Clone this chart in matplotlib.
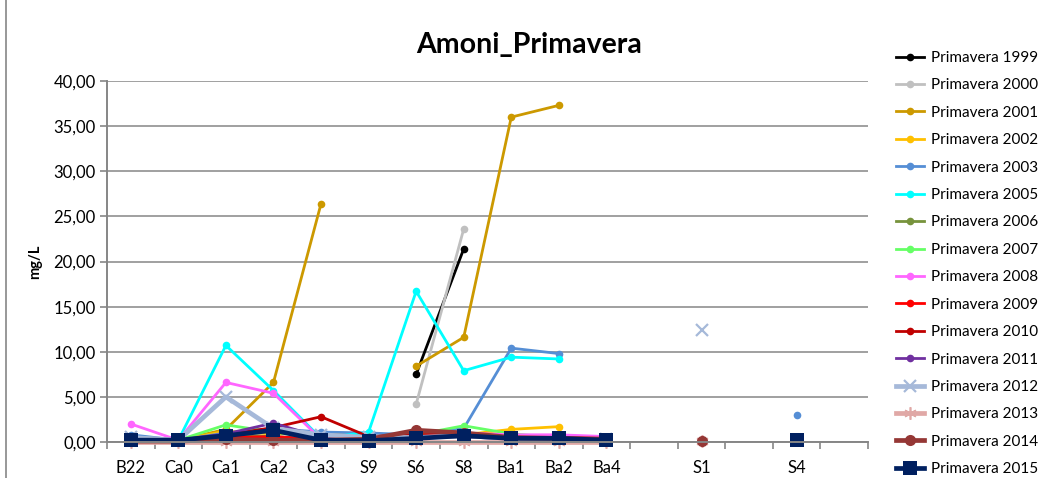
import numpy as np
import matplotlib
matplotlib.use("Agg")
import matplotlib.pyplot as plt
from matplotlib.ticker import FuncFormatter, MultipleLocator
from matplotlib.lines import Line2D

plt.rcParams['font.family'] = ['Lato', 'DejaVu Sans']

nan = np.nan

# Sampling sites (empty strings are unlabelled slots on the category axis)
sites = ["B22", "Ca0", "Ca1", "Ca2", "Ca3", "S9", "S6", "S8", "Ba1", "Ba2", "Ba4",
         "", "S1", "", "S4", ""]

# Ammonium (mg/L), spring campaigns
p1999 = [nan, nan, nan, nan, nan, nan, 7.5, 21.4, nan, nan, nan, nan, nan, nan, nan, nan]
p2000 = [nan, nan, nan, nan, nan, nan, 4.2, 23.6, nan, nan, nan, nan, nan, nan, nan, nan]
p2001 = [0.3, 0.2, 1.4, 6.6, 26.4, nan, 8.4, 11.6, 36.0, 37.3, nan, nan, nan, nan, nan, nan]
p2002 = [0.4, 0.2, 1.2, 0.9, 1.0, 0.6, 0.5, 0.8, 1.4, 1.7, nan, nan, nan, nan, 0.6, nan]
p2003 = [0.8, 0.2, 1.0, 1.5, 1.1, 1.0, 0.8, 1.5, 10.4, 9.8, nan, nan, nan, nan, 3.0, nan]
p2005 = [nan, 0.2, 10.7, 5.7, 0.4, 1.1, 16.7, 7.9, 9.4, 9.2, nan, nan, nan, nan, nan, nan]
p2006 = [0.5, 0.2, 0.8, 0.6, 0.3, 0.3, 0.5, 0.6, 0.4, 0.3, 0.3, nan, nan, nan, nan, nan]
p2007 = [0.5, 0.2, 1.9, 1.1, 0.4, 0.5, 0.8, 1.8, 0.9, 0.5, nan, nan, nan, nan, nan, nan]
p2008 = [2.0, 0.2, 6.6, 5.4, 0.3, 0.4, 0.7, 1.0, 0.8, 0.8, 0.6, nan, nan, nan, nan, nan]
p2009 = [0.3, 0.2, 0.5, 0.6, 0.3, 0.4, 0.8, 0.6, 0.5, 0.5, 0.4, nan, nan, nan, nan, nan]
p2010 = [0.3, 0.2, 0.8, 1.6, 2.8, 0.6, 0.8, 0.9, 0.5, 0.4, 0.3, nan, nan, nan, nan, nan]
p2011 = [0.3, 0.2, 0.9, 2.1, 0.5, 0.3, 0.5, 0.6, 0.3, 0.3, 0.2, nan, nan, nan, nan, nan]
p2012 = [0.5, 0.2, 5.0, 1.5, 0.8, 0.5, 0.5, 0.7, 0.4, 0.3, 0.3, nan, 12.4, nan, nan, nan]
p2013 = [0.05, 0.05, 0.05, 0.05, 0.05, 0.05, 0.05, 0.05, 0.05, 0.05, 0.05, nan, 0.1, nan, nan, nan]
p2014 = [0.1, 0.1, 0.3, 0.2, 0.2, 0.3, 1.3, 1.0, 0.5, 0.4, 0.3, nan, 0.15, nan, nan, nan]
p2015 = [0.2, 0.2, 0.7, 1.3, 0.2, 0.15, 0.4, 0.7, 0.4, 0.4, 0.2, nan, nan, nan, 0.2, nan]

labels = ["Primavera 1999", "Primavera 2000", "Primavera 2001", "Primavera 2002",
          "Primavera 2003", "Primavera 2005", "Primavera 2006", "Primavera 2007",
          "Primavera 2008", "Primavera 2009", "Primavera 2010", "Primavera 2011",
          "Primavera 2012", "Primavera 2013", "Primavera 2014", "Primavera 2015"]
series = [p1999, p2000, p2001, p2002, p2003, p2005, p2006, p2007,
          p2008, p2009, p2010, p2011, p2012, p2013, p2014, p2015]

colors = ["#000000", "#C0C0C0", "#CC9900", "#FFC000", "#558ED5", "#00FFFF",
          "#77933C", "#66FF66", "#FF66FF", "#FF0000", "#C00000", "#7030A0",
          "#A6B9D9", "#E0A8A6", "#953735", "#002060"]

styles = {}
for lab in labels:
    styles[lab] = dict(marker="o", ms=5.5, lw=2.0, mew=0)
styles["Primavera 2012"] = dict(marker="x", ms=9, lw=3.4, mew=1.6)
styles["Primavera 2013"] = dict(marker=(6, 2, 0), ms=9, lw=3.4, mew=1.2)
styles["Primavera 2014"] = dict(marker="o", ms=8, lw=3.4, mew=0)
styles["Primavera 2015"] = dict(marker="s", ms=9.5, lw=3.4, mew=0)

fig = plt.figure(figsize=(10.45, 4.78), dpi=100)
ax = fig.add_axes([107 / 1045, (478 - 442) / 478, (868 - 107) / 1045, (442 - 81) / 478])

x = np.arange(len(sites))
for lab, vals, c in zip(labels, series, colors):
    st = styles[lab]
    ax.plot(x, np.array(vals, dtype=float), color=c, label=lab,
            marker=st["marker"], markersize=st["ms"], linewidth=st["lw"],
            markeredgewidth=st["mew"], markeredgecolor=c, markerfacecolor=c,
            solid_joinstyle="round", clip_on=False)

ax.set_xlim(-0.5, len(sites) - 0.5)
ax.set_ylim(0, 40)
ax.yaxis.set_major_locator(MultipleLocator(5))
ax.yaxis.set_major_formatter(FuncFormatter(lambda v, p: f"{v:.2f}".replace(".", ",")))

named = [i for i, s in enumerate(sites) if s]
ax.set_xticks(named)
ax.set_xticklabels([sites[i] for i in named])
ax.set_xticks(np.arange(-0.5, len(sites), 1.0), minor=True)
ax.tick_params(axis="x", which="major", length=0, pad=13, labelsize=12, colors="#000000")
ax.tick_params(axis="x", which="minor", length=5, width=1.2, direction="out", color="#868686")
ax.tick_params(axis="y", which="major", length=5, width=1.2, direction="out",
               color="#868686", labelsize=12, labelcolor="#000000", pad=3)

ax.grid(axis="y", color="#A0A0A0", linewidth=1.4)
ax.set_axisbelow(True)
for side in ("top", "right"):
    ax.spines[side].set_visible(False)
for side in ("left", "bottom"):
    ax.spines[side].set_color("#868686")
    ax.spines[side].set_linewidth(1.4)

ax.set_ylabel("mg/L", fontsize=10.5, fontweight="bold", labelpad=8)
fig.text(529 / 1045, 1 - 45 / 478, "Amoni_Primavera", ha="center", va="center",
         fontsize=20.5, fontweight="bold")

fig.legend(loc="upper left", bbox_to_anchor=(896 / 1045, 1 - 51 / 478),
           frameon=False, fontsize=11, handlelength=1.85, handletextpad=0.45,
           labelspacing=0.878, borderpad=0, borderaxespad=0)

# Chart border on the left edge
fig.add_artist(Line2D([6 / 1045, 6 / 1045], [0, 1], transform=fig.transFigure,
                      color="#868686", linewidth=1.2))

fig.savefig("out.png", dpi=100)
